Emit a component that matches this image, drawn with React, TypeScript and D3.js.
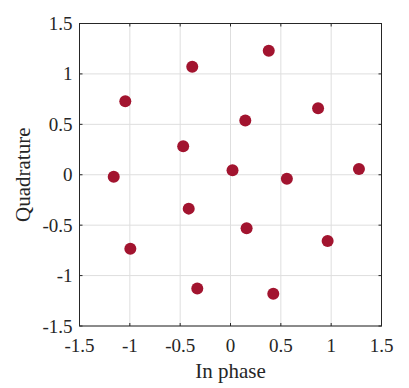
import * as d3 from 'd3';
import React, { useEffect, useRef } from 'react';

const inPhase = [0.38, -0.38, -1.045, 0.147, 0.87, -0.47, -1.16, 0.02, 0.56, 1.276, -0.415, 0.16, 0.965, -0.995, -0.33, 0.425];
const quadrature = [1.23, 1.07, 0.73, 0.538, 0.66, 0.283, -0.02, 0.045, -0.04, 0.058, -0.336, -0.53, -0.657, -0.733, -1.127, -1.18];
const ticks = [-1.5, -1, -0.5, 0, 0.5, 1, 1.5];

function App() {
    const ref = useRef(null);

    useEffect(() => {
        const svg = d3.select(ref.current);
        svg.selectAll('*').remove();

        const left = 79.5, top = 23.5, width = 302, height = 302.5;
        const font = 'Liberation Serif, serif';

        const x = d3.scaleLinear().domain([-1.5, 1.5]).range([left, left + width]);
        const y = d3.scaleLinear().domain([-1.5, 1.5]).range([top + height, top]);

        const g = svg.append('g');

        // grid
        g.selectAll('.gx').data(ticks).enter().append('line')
            .attr('x1', d => x(d)).attr('x2', d => x(d))
            .attr('y1', top).attr('y2', top + height)
            .attr('stroke', '#dedede').attr('stroke-width', 1);
        g.selectAll('.gy').data(ticks).enter().append('line')
            .attr('y1', d => y(d)).attr('y2', d => y(d))
            .attr('x1', left).attr('x2', left + width)
            .attr('stroke', '#dedede').attr('stroke-width', 1);

        // inward ticks
        const tl = 3;
        ticks.forEach(t => {
            g.append('line').attr('x1', x(t)).attr('x2', x(t)).attr('y1', top + height).attr('y2', top + height - tl).attr('stroke', '#262626');
            g.append('line').attr('x1', x(t)).attr('x2', x(t)).attr('y1', top).attr('y2', top + tl).attr('stroke', '#262626');
            g.append('line').attr('y1', y(t)).attr('y2', y(t)).attr('x1', left).attr('x2', left + tl).attr('stroke', '#262626');
            g.append('line').attr('y1', y(t)).attr('y2', y(t)).attr('x1', left + width).attr('x2', left + width - tl).attr('stroke', '#262626');
        });

        g.append('rect')
            .attr('x', left).attr('y', top).attr('width', width).attr('height', height)
            .attr('fill', 'none').attr('stroke', '#262626').attr('stroke-width', 1);

        // tick labels
        g.selectAll('.xl').data(ticks).enter().append('text')
            .attr('x', d => x(d)).attr('y', top + height + 26)
            .attr('text-anchor', 'middle')
            .style('font-family', font).style('font-size', '19px').attr('fill', '#262626')
            .text(d => String(d));
        g.selectAll('.yl').data(ticks).enter().append('text')
            .attr('x', left - 7).attr('y', d => y(d) + 6.5)
            .attr('text-anchor', 'end')
            .style('font-family', font).style('font-size', '19px').attr('fill', '#262626')
            .text(d => String(d));

        // axis labels
        g.append('text')
            .attr('x', x(0)).attr('y', 378)
            .attr('text-anchor', 'middle')
            .style('font-family', font).style('font-size', '21px').attr('fill', '#262626')
            .text('In phase');
        g.append('text')
            .attr('transform', `translate(30,${y(0)}) rotate(-90)`)
            .attr('text-anchor', 'middle')
            .style('font-family', font).style('font-size', '21px').attr('fill', '#262626')
            .text('Quadrature');

        // points
        g.selectAll('.pt').data(inPhase).enter().append('circle')
            .attr('cx', d => x(d))
            .attr('cy', (d, i) => y(quadrature[i]))
            .attr('r', 6)
            .attr('fill', '#A2142F');
    }, []);

    return <svg ref={ref} width={409} height={388} style={{ display: 'block', position: 'absolute', left: 0, top: 0 }}></svg>;
}

export default App;
